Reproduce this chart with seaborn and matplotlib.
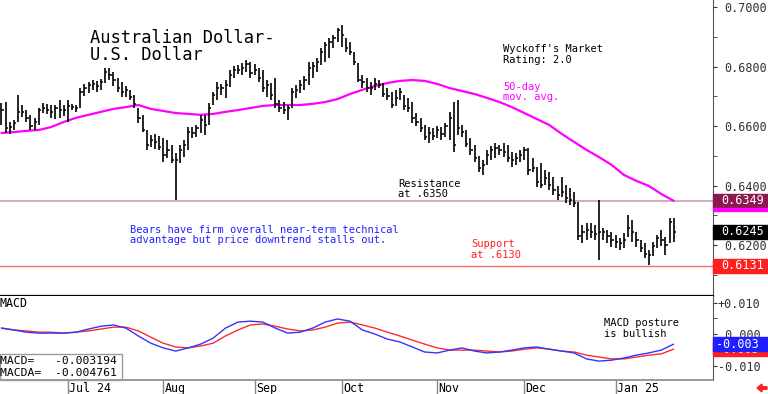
import matplotlib
matplotlib.use("Agg")
import matplotlib.pyplot as plt
import matplotlib.transforms as mtransforms
from matplotlib.patches import Rectangle, FancyArrow
from matplotlib.ticker import MultipleLocator
import numpy as np
import pandas as pd
import seaborn as sns

# daily AUD/USD bars
highs = [
    0.6678, 0.6681, 0.6614, 0.6621, 0.6705, 0.6671, 0.6654, 0.6638, 0.6628, 0.6661,
    0.6678, 0.6675, 0.6671, 0.6671, 0.6688, 0.6671, 0.6688, 0.6675, 0.6671, 0.6728,
    0.6742, 0.6749, 0.6755, 0.6752, 0.6759, 0.6796, 0.6796, 0.6782, 0.6762, 0.6749,
    0.6735, 0.6722, 0.6705, 0.6661, 0.6638, 0.6587, 0.6570, 0.6574, 0.6567, 0.6560,
    0.6554, 0.6537, 0.6510, 0.6537, 0.6554, 0.6597, 0.6597, 0.6604, 0.6638, 0.6638,
    0.6678, 0.6715, 0.6749, 0.6742, 0.6755, 0.6789, 0.6802, 0.6806, 0.6812, 0.6822,
    0.6816, 0.6809, 0.6796, 0.6789, 0.6755, 0.6745, 0.6762, 0.6688, 0.6681, 0.6671,
    0.6728, 0.6738, 0.6755, 0.6769, 0.6816, 0.6816, 0.6829, 0.6863, 0.6883, 0.6896,
    0.6906, 0.6930, 0.6940, 0.6896, 0.6883, 0.6849, 0.6812, 0.6772, 0.6762, 0.6749,
    0.6762, 0.6755, 0.6745, 0.6728, 0.6715, 0.6722, 0.6728, 0.6705, 0.6695, 0.6681,
    0.6644, 0.6628, 0.6604, 0.6597, 0.6594, 0.6601, 0.6597, 0.6611, 0.6648, 0.6681,
    0.6688, 0.6604, 0.6587, 0.6560, 0.6537, 0.6500, 0.6486, 0.6520, 0.6533, 0.6544,
    0.6537, 0.6544, 0.6537, 0.6513, 0.6510, 0.6520, 0.6530, 0.6527, 0.6493, 0.6463,
    0.6476, 0.6453, 0.6446, 0.6429, 0.6399, 0.6429, 0.6402, 0.6392, 0.6379, 0.6345,
    0.6268, 0.6275, 0.6275, 0.6268, 0.6352, 0.6258, 0.6251, 0.6244, 0.6234, 0.6224,
    0.6241, 0.6302, 0.6285, 0.6244, 0.6218, 0.6208, 0.6184, 0.6211, 0.6234, 0.6251,
    0.6228, 0.6292, 0.6292]
lows = [
    0.6604, 0.6577, 0.6574, 0.6587, 0.6614, 0.6631, 0.6614, 0.6587, 0.6587, 0.6604,
    0.6644, 0.6641, 0.6628, 0.6624, 0.6628, 0.6634, 0.6614, 0.6654, 0.6648, 0.6661,
    0.6701, 0.6712, 0.6722, 0.6715, 0.6722, 0.6745, 0.6755, 0.6735, 0.6715, 0.6698,
    0.6698, 0.6688, 0.6661, 0.6611, 0.6580, 0.6520, 0.6530, 0.6523, 0.6520, 0.6480,
    0.6493, 0.6476, 0.6352, 0.6476, 0.6496, 0.6520, 0.6560, 0.6564, 0.6577, 0.6570,
    0.6604, 0.6671, 0.6688, 0.6705, 0.6695, 0.6732, 0.6762, 0.6775, 0.6772, 0.6782,
    0.6762, 0.6772, 0.6749, 0.6715, 0.6698, 0.6688, 0.6661, 0.6648, 0.6641, 0.6621,
    0.6661, 0.6695, 0.6712, 0.6722, 0.6738, 0.6762, 0.6782, 0.6806, 0.6816, 0.6829,
    0.6863, 0.6883, 0.6866, 0.6849, 0.6839, 0.6806, 0.6749, 0.6728, 0.6715, 0.6705,
    0.6722, 0.6728, 0.6698, 0.6688, 0.6661, 0.6668, 0.6688, 0.6654, 0.6648, 0.6611,
    0.6601, 0.6580, 0.6554, 0.6544, 0.6554, 0.6560, 0.6554, 0.6564, 0.6554, 0.6513,
    0.6570, 0.6564, 0.6530, 0.6503, 0.6480, 0.6446, 0.6436, 0.6470, 0.6486, 0.6493,
    0.6503, 0.6496, 0.6480, 0.6463, 0.6470, 0.6480, 0.6486, 0.6436, 0.6446, 0.6396,
    0.6392, 0.6402, 0.6386, 0.6369, 0.6352, 0.6362, 0.6342, 0.6335, 0.6328, 0.6218,
    0.6208, 0.6218, 0.6224, 0.6218, 0.6150, 0.6218, 0.6208, 0.6194, 0.6191, 0.6184,
    0.6191, 0.6228, 0.6211, 0.6194, 0.6177, 0.6157, 0.6134, 0.6164, 0.6191, 0.6197,
    0.6167, 0.6208, 0.6211]
closes = [
    0.6654, 0.6594, 0.6597, 0.6611, 0.6648, 0.6648, 0.6628, 0.6601, 0.6614, 0.6654,
    0.6661, 0.6654, 0.6648, 0.6661, 0.6654, 0.6654, 0.6668, 0.6664, 0.6661, 0.6715,
    0.6728, 0.6738, 0.6742, 0.6735, 0.6749, 0.6782, 0.6772, 0.6755, 0.6728, 0.6715,
    0.6722, 0.6698, 0.6675, 0.6628, 0.6587, 0.6537, 0.6554, 0.6547, 0.6530, 0.6503,
    0.6520, 0.6486, 0.6486, 0.6520, 0.6537, 0.6580, 0.6577, 0.6594, 0.6621, 0.6604,
    0.6661, 0.6705, 0.6728, 0.6728, 0.6738, 0.6772, 0.6789, 0.6789, 0.6796, 0.6809,
    0.6779, 0.6789, 0.6762, 0.6728, 0.6738, 0.6705, 0.6675, 0.6661, 0.6654, 0.6661,
    0.6715, 0.6722, 0.6738, 0.6755, 0.6796, 0.6802, 0.6816, 0.6849, 0.6873, 0.6883,
    0.6896, 0.6923, 0.6906, 0.6863, 0.6849, 0.6816, 0.6755, 0.6749, 0.6728, 0.6728,
    0.6742, 0.6738, 0.6708, 0.6701, 0.6671, 0.6695, 0.6715, 0.6668, 0.6661, 0.6628,
    0.6614, 0.6594, 0.6564, 0.6577, 0.6567, 0.6587, 0.6574, 0.6601, 0.6628, 0.6537,
    0.6594, 0.6580, 0.6540, 0.6520, 0.6493, 0.6460, 0.6470, 0.6503, 0.6520, 0.6527,
    0.6520, 0.6513, 0.6493, 0.6486, 0.6493, 0.6503, 0.6520, 0.6453, 0.6460, 0.6412,
    0.6402, 0.6426, 0.6402, 0.6386, 0.6369, 0.6379, 0.6359, 0.6352, 0.6342, 0.6231,
    0.6244, 0.6251, 0.6244, 0.6238, 0.6244, 0.6244, 0.6231, 0.6218, 0.6211, 0.6208,
    0.6218, 0.6258, 0.6244, 0.6218, 0.6191, 0.6171, 0.6167, 0.6197, 0.6224, 0.6218,
    0.6201, 0.6278, 0.6245]

# 50-day moving average, MACD and signal, read every third bar
ma50 = [
    0.6577, 0.6580, 0.6584, 0.6587, 0.6597, 0.6614, 0.6628, 0.6638, 0.6648, 0.6658,
    0.6664, 0.6671, 0.6658, 0.6651, 0.6644, 0.6641, 0.6638, 0.6641, 0.6648, 0.6654,
    0.6661, 0.6668, 0.6671, 0.6671, 0.6671, 0.6675, 0.6681, 0.6691, 0.6708, 0.6722,
    0.6735, 0.6745, 0.6752, 0.6755, 0.6752, 0.6742, 0.6728, 0.6718, 0.6708, 0.6695,
    0.6681, 0.6664, 0.6644, 0.6624, 0.6604, 0.6574, 0.6547, 0.6520, 0.6496, 0.6470,
    0.6436, 0.6416, 0.6399, 0.6372, 0.6349]
macd = [
    0.0019, 0.0013, 0.0006, 0.0003, 0.0003, 0.0003, 0.0006, 0.0016, 0.0025, 0.0029,
    0.0019, -0.0006, -0.0029, -0.0044, -0.0054, -0.0044, -0.0032, -0.0013, 0.0019, 0.0038,
    0.0041, 0.0038, 0.0019, 0.0003, 0.0006, 0.0019, 0.0038, 0.0048, 0.0041, 0.0013,
    0.0000, -0.0016, -0.0025, -0.0041, -0.0057, -0.0060, -0.0051, -0.0044, -0.0054, -0.0060,
    -0.0057, -0.0051, -0.0044, -0.0041, -0.0048, -0.0054, -0.0060, -0.0079, -0.0086, -0.0083,
    -0.0076, -0.0067, -0.0060, -0.0051, -0.0032]
macda = [
    0.0019, 0.0013, 0.0010, 0.0006, 0.0006, 0.0003, 0.0006, 0.0010, 0.0016, 0.0022,
    0.0022, 0.0010, -0.0010, -0.0029, -0.0041, -0.0044, -0.0038, -0.0029, -0.0006, 0.0013,
    0.0029, 0.0032, 0.0025, 0.0016, 0.0010, 0.0013, 0.0022, 0.0035, 0.0038, 0.0029,
    0.0019, 0.0006, -0.0006, -0.0019, -0.0032, -0.0044, -0.0051, -0.0051, -0.0051, -0.0054,
    -0.0057, -0.0054, -0.0048, -0.0044, -0.0048, -0.0054, -0.0057, -0.0067, -0.0073, -0.0079,
    -0.0079, -0.0073, -0.0067, -0.0063, -0.0048]

macd_now = -0.003194
macda_now = -0.004761
resistance = 0.6350
support = 0.6131
month_labels = ["Jul 24", "Aug", "Sep", "Oct", "Nov", "Dec", "Jan 25"]

n = len(closes)
dates = pd.bdate_range("2024-06-07", periods=n)
idx = np.arange(n)
line_x = idx[::3]
month_starts = [i for i in range(1, n) if dates[i].month != dates[i - 1].month]

sns.set_style("white")
plt.rcParams['font.family'] = ['DejaVu Sans Mono', 'DejaVu Sans']

W, H = 768, 394
fig = plt.figure(figsize=(W / 100, H / 100), dpi=100)


def fx(p):
    return p / W


def fy(p):
    return 1 - p / H


xlim = (-0.34, 171.47)
ax = fig.add_axes([0, fy(296), fx(713), 296 / H])
ax_m = fig.add_axes([0, fy(380), fx(713), 84 / H])
ax_d = fig.add_axes([0, 0, fx(713), 14 / H])

# ---- price panel ----
ax.axhline(resistance, color="#c9a0bd", lw=1.2, zorder=1)
ax.axhline(support, color="#f07070", lw=1.0, zorder=1)
ax.vlines(idx, lows, highs, color="black", lw=1.2, zorder=3)
ax.hlines(closes, idx, idx + 0.55, color="black", lw=1.1, zorder=3)
sns.lineplot(x=line_x, y=ma50, ax=ax, color="#ff00ff", linewidth=1.6, zorder=2)

ax.set_xlim(*xlim)
ax.set_ylim(0.6029, 0.7024)
ax.set_xticks([])
ax.yaxis.tick_right()
price_ticks = [0.62, 0.64, 0.66, 0.68, 0.70]
ax.set_yticks(price_ticks)
ax.set_yticklabels([f"{v:.4f}" for v in price_ticks])
ax.yaxis.set_minor_locator(MultipleLocator(0.01))
ax.tick_params(axis="y", which="both", direction="out", length=3, pad=5,
               labelsize=8.5, colors="#333333")
for s in ["left", "top"]:
    ax.spines[s].set_visible(False)
ax.spines["right"].set_color("#555555")
ax.spines["bottom"].set_color("black")
ax.spines["bottom"].set_linewidth(1.6)
ax.set_xlabel("")
ax.set_ylabel("")

# value flags on the right edge
trans = mtransforms.blended_transform_factory(fig.transFigure, ax.transData)
box_h = 14 * 0.000336
flags = [(ma50[-1], "#8c1a4e"), (closes[-1], "black"), (support, "#ff1f1f")]
for val, col in flags:
    ax.add_patch(Rectangle((fx(713), val - box_h / 2), fx(768) - fx(713), box_h,
                           transform=trans, color=col, clip_on=False, zorder=5))
    ax.text(fx(721), val, f"{val:.4f}", transform=trans, color="white",
            fontsize=8.5, va="center", ha="left", clip_on=False, zorder=6)
ax.add_patch(Rectangle((fx(713), ma50[-1] - box_h / 2 - 3 * 0.000336), fx(768) - fx(713),
                       3 * 0.000336, transform=trans, color="#ff00ff", clip_on=False, zorder=5))

# ---- MACD panel ----
sns.lineplot(x=line_x, y=macda, ax=ax_m, color="#ff2b2b", linewidth=1.0)
sns.lineplot(x=line_x, y=macd, ax=ax_m, color="#3434ff", linewidth=1.0)
ax_m.set_xlim(*xlim)
ax_m.set_ylim(-0.0146, 0.0121)
ax_m.set_xticks([])
ax_m.yaxis.tick_right()
ax_m.set_yticks([0.01, 0.0, -0.01])
ax_m.set_yticklabels(["+0.010", " 0.000", "-0.010"])
ax_m.yaxis.set_minor_locator(MultipleLocator(0.005))
ax_m.tick_params(axis="y", which="both", direction="out", length=3, pad=0.5,
                 labelsize=8.5, colors="#333333")
for s in ["left", "top", "bottom"]:
    ax_m.spines[s].set_visible(False)
ax_m.spines["right"].set_color("#555555")
ax_m.set_xlabel("")
ax_m.set_ylabel("")

trans_m = mtransforms.blended_transform_factory(fig.transFigure, ax_m.transData)
mbox_h = 14 / 3150
z = 5
for val, col in [(macda_now, "#ff1f1f"), (macd_now, "#1f1fff")]:
    ax_m.add_patch(Rectangle((fx(713), val - mbox_h / 2), fx(768) - fx(713), mbox_h,
                             transform=trans_m, color=col, clip_on=False, zorder=z))
    ax_m.text(fx(716), val, f"{val:.3f}", transform=trans_m, color="white",
              fontsize=8.5, va="center", ha="left", clip_on=False, zorder=z + 1)
    z += 2

# ---- date strip ----
ax_d.set_xlim(*xlim)
ax_d.set_ylim(0, 1)
ax_d.vlines(month_starts, 0, 1, color="#888888", lw=1.0)
for pos, lab in zip(month_starts, month_labels):
    ax_d.text(pos + 0.3, 0.42, lab, fontsize=8.4, va="center", ha="left", color="black")
ax_d.set_xticks([])
ax_d.set_yticks([])
for s in ["left", "right", "bottom"]:
    ax_d.spines[s].set_visible(False)
ax_d.spines["top"].set_color("#888888")
ax_d.spines["top"].set_linewidth(1.2)

fig.add_artist(FancyArrow(fx(767), fy(388), fx(757) - fx(767), 0, width=2.5 / H,
                          head_width=8 / H, head_length=5 / W, length_includes_head=True,
                          transform=fig.transFigure, color="#ff2020"))

# ---- annotations ----
def label(x, y, s, size=7.5, color="black"):
    fig.text(fx(x), fy(y), s, fontsize=size, color=color, va="baseline", ha="left")


label(90, 43, "Australian Dollar-", size=12.3)
label(90, 60, "U.S. Dollar", size=12.3)
label(503, 52, "Wyckoff's Market")
label(503, 63, "Rating: 2.0")
label(503, 90, "50-day", color="#ff00ff")
label(503, 100, "mov. avg.", color="#ff00ff")
label(398, 187, "Resistance")
label(398, 197, "at .6350")
label(130, 233, "Bears have firm overall near-term technical", color="#2020ff")
label(130, 243, "advantage but price downtrend stalls out.", color="#2020ff")
label(471, 247, "Support", color="#ff2020")
label(471, 258, "at .6130", color="#ff2020")
label(0, 307, "MACD", size=8.4)
label(604, 326, "MACD posture")
label(604, 337, "is bullish")
label(0, 364, f"MACD=   {macd_now:.6f}", size=8.2)
label(0, 376, f"MACDA=  {macda_now:.6f}", size=8.2)
fig.add_artist(Rectangle((fx(0), fy(380)), fx(122), 26 / H, transform=fig.transFigure,
                         fill=False, edgecolor="#999999", lw=1.0))

fig.savefig("out.png", dpi=100, facecolor="white")
